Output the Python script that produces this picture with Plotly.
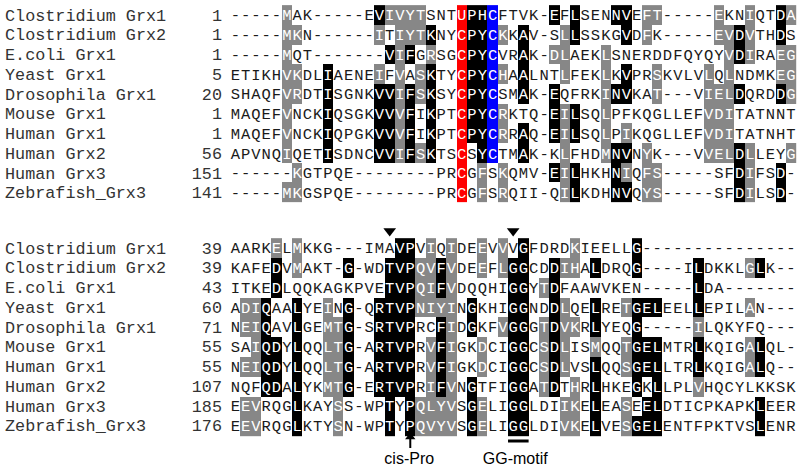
import plotly.graph_objects as go

# ---------------- data ----------------
names = ["Clostridium Grx1", "Clostridium Grx2", "E.coli Grx1", "Yeast Grx1",
         "Drosophila Grx1", "Mouse Grx1", "Human Grx1", "Human Grx2",
         "Human Grx3", "Zebrafish_Grx3"]
start1 = [1, 1, 1, 5, 20, 1, 1, 56, 151, 141]
start2 = [39, 39, 43, 60, 71, 55, 55, 107, 185, 176]

seq1 = [
    "-----MAK-----EVIVYTSNTUPHCFTVK-EFLSENNVEFT-----EKNIQTDA",
    "-----MKN------ITIYTKNYCPYCKKAV-SLLSSKGVDFK-----EVDVTHDS",
    "-----MQT-------VIFGRSGCPYCVRAK-DLAEKLSNERDDFQYQYVDIRAEG",
    "ETIKHVKDLIAENEIFVASKTYCPYCHAALNTLFEKLKVPRSKVLVLQLNDMKEG",
    "SHAQFVRDTISGNKVVIFSKSYCPYCSMAK-EQFRKINVKAT---VIELDQRDDG",
    "MAQEFVNCKIQSGKVVVFIKPTCPYCRKTQ-EILSQLPFKQGLLEFVDITATNNT",
    "MAQEFVNCKIQPGKVVVFIKPTCPYCRRAQ-EILSQLPIKQGLLEFVDITATNHT",
    "APVNQIQETISDNCVVIFSKTSCSYCTMAK-KLFHDMNVNYK---VVELDLLEYG",
    "------KGTPQE--------PRCGFSKQMV-EILHKHNIQFS-----SFDIFSD-",
    "-----MKGSPQE--------PRCGFSRQII-QILKDHNVQYS-----SFDILSD-",
]
seq2 = [
    "AARKELMKKG---IMAVPVIQIDEEVVVGFDRDKIEELLG---------------",
    "KAFEDVMAKT-G-WDTVPQVFVDEEFLGGCDDIHALDRQG----ILDKKLGLK--",
    "ITKEDLQQKAGKPVETVPQIFVDQQHIGGYTDFAAWVKEN-----LDA-------",
    "ADIQAALYEING-QRTVPNIYINGKHIGGNDDLQELRETGELEELLEPILAN---",
    "NEIQAVLGEMTG-SRTVPRCFIDGKFVGGGTDVKRLYEQG-----ILQKYFQ---",
    "SAIQDYLQQLTG-ARTVPRVFIGKDCIGGCSDLISMQQTGELMTRLKQIGALQL-",
    "NEIQDYLQQLTG-ARTVPRVFIGKDCIGGCSDLVSLQQSGELLTRLKQIGALQ--",
    "NQFQDALYKMTG-ERTVPRIFVNGTFIGGATDTHRLHKEGKLLPLVHQCYLKKSK",
    "EEVRQGLKAYSS-WPTYPQLYVSGELIGGLDIIKELEASEELDTICPKAPKLEER",
    "EEVRQGLKTYSN-WPTYPQVYVSGELIGGLDIVKELVESGELENTFPKTVSLENR",
]

# shading: column indices per row (gray = similar, black = identical)
gray1 = [
    [5, 15, 16, 17, 18, 40, 41, 47, 50, 54],
    [5, 6, 14, 16, 17, 18, 26, 32, 40, 47, 48, 50],
    [5, 16, 19, 31, 32, 36, 48, 50, 53, 54],
    [5, 6, 14, 16, 18, 26, 32, 36, 41, 46, 48, 53, 54],
    [5, 6, 16, 18, 36, 41, 46, 47, 48, 54],
    [5, 16, 26, 32, 36, 46, 47, 48],
    [5, 16, 26, 32, 36, 38, 46, 47, 48],
    [5, 16, 18, 32, 36, 40, 46, 47, 48, 50, 54],
    [6, 24, 26, 32, 38, 40, 41, 50],
    [5, 6, 24, 26, 32, 40, 41, 50],
]
black1 = [
    [14, 23, 24, 31, 33, 37, 38, 53],
    [19, 23, 24, 28, 33, 38, 49, 53],
    [15, 17, 23, 24, 28, 49],
    [9, 19, 23, 24, 28, 38],
    [9, 14, 15, 17, 19, 23, 24, 28, 31, 37, 38, 49, 53],
    [9, 14, 15, 17, 19, 23, 24, 31, 33],
    [9, 14, 15, 17, 19, 23, 24, 28, 31, 33],
    [9, 14, 15, 17, 19, 24, 28, 37, 38, 49],
    [31, 33, 37, 49, 53],
    [33, 37, 38, 49, 53],
]
red1 = {"col": 22, "rows": list(range(10))}
blue1 = {"col": 25, "rows": list(range(8))}

gray2 = [
    [4, 6, 19, 21, 24, 26, 33],
    [6, 18, 19, 21, 24, 26, 32, 33, 50],
    [18, 19, 21, 30],
    [1, 2, 9, 18, 19, 20, 21, 32, 38, 50],
    [1, 2, 9, 10, 21, 26, 30, 32, 33, 45],
    [2, 9, 10, 19, 21, 24, 30, 32, 35, 38, 50],
    [1, 2, 9, 10, 19, 21, 24, 30, 32, 38, 50],
    [9, 10, 19, 21, 30, 33, 45],
    [1, 2, 10, 18, 19, 20, 21, 24, 32, 33, 38],
    [1, 2, 10, 18, 19, 20, 21, 24, 32, 33, 38],
]
black2 = [
    [16, 17, 28, 39],
    [4, 11, 15, 16, 17, 20, 27, 28, 31, 35, 39, 45, 51],
    [4, 15, 16, 17, 20, 27, 28, 31, 45],
    [3, 6, 11, 14, 15, 16, 17, 23, 27, 28, 31, 35, 39, 40, 41, 45],
    [3, 6, 11, 14, 15, 16, 17, 20, 23, 27, 28, 31, 35, 39],
    [3, 4, 6, 11, 14, 15, 16, 17, 20, 27, 28, 31, 39, 40, 41, 45, 51],
    [3, 4, 6, 11, 14, 15, 16, 17, 20, 27, 28, 31, 35, 39, 40, 41, 45, 51],
    [3, 4, 6, 11, 14, 15, 16, 17, 20, 23, 27, 28, 31, 35, 39, 41],
    [6, 15, 17, 23, 27, 28, 35, 40, 41, 51],
    [6, 15, 17, 23, 27, 28, 35, 39, 40, 41, 51],
]

triangle_cols = [15, 27]          # markers above block 2
cis_pro_col = 17
gg_motif_cols = [27, 28]
labels = ["cis-Pro", "GG-motif"]

# ---------------- layout constants ----------------
W, H = 800, 469
CW = 10.29        # px per alignment column
X0 = 230.2        # px of left edge of column 0
ROW_H = 19.75     # px per row
Y0 = 15.0         # px centre of first row
BLOCK2 = 11.8     # row offset of second block
TEXT_DY = 0.07    # small downward nudge of glyphs inside their cells
NCOL = 55
MONO = "Liberation Mono, Courier New, monospace"
SANS = "Liberation Sans, Arial, sans-serif"
FS_SEQ = 15.5
FS_NAME = 16.8

GRAY, BLACK, RED, BLUE = "#878787", "#000000", "#ff0000", "#0000ff"


def px_to_x(px):
    return (px - X0) / CW - 0.5


def px_to_y(py):
    return (py - Y0) / ROW_H


fig = go.Figure()


def build_block(seqs, grays, blacks, red, blue, yoff, starts):
    z = [[None] * NCOL for _ in seqs]
    for r in range(len(seqs)):
        for c in grays[r]:
            z[r][c] = 1
        for c in blacks[r]:
            z[r][c] = 2
    if red:
        for r in red["rows"]:
            z[r][red["col"]] = 3
    if blue:
        for r in blue["rows"]:
            z[r][blue["col"]] = 4
    fig.add_trace(go.Heatmap(
        z=z, x=list(range(NCOL)), y=[yoff + r for r in range(len(seqs))],
        zmin=0.5, zmax=4.5, showscale=False, hoverinfo="skip", zsmooth=False,
        colorscale=[[0, GRAY], [0.25, GRAY], [0.25, BLACK], [0.5, BLACK],
                    [0.5, RED], [0.75, RED], [0.75, BLUE], [1, BLUE]]))
    xs, ys, ts, cs = [], [], [], []
    for r, s in enumerate(seqs):
        for c, ch in enumerate(s):
            xs.append(c)
            ys.append(yoff + r + TEXT_DY)
            ts.append(ch)
            cs.append("white" if z[r][c] else "#1a1a1a")
    fig.add_trace(go.Scatter(x=xs, y=ys, text=ts, mode="text",
                             textfont=dict(family=MONO, size=FS_SEQ, color=cs),
                             hoverinfo="skip"))
    # names
    fig.add_trace(go.Scatter(x=[px_to_x(5)] * len(names),
                             y=[yoff + r + TEXT_DY for r in range(len(names))],
                             text=names, mode="text", textposition="middle right",
                             textfont=dict(family=MONO, size=FS_NAME, color="#333"),
                             hoverinfo="skip"))
    # start numbers
    fig.add_trace(go.Scatter(x=[-1.3] * len(starts),
                             y=[yoff + r + TEXT_DY for r in range(len(starts))],
                             text=[str(v) for v in starts], mode="text",
                             textposition="middle left",
                             textfont=dict(family=MONO, size=FS_NAME, color="#333"),
                             hoverinfo="skip"))


build_block(seq1, gray1, black1, red1, blue1, 0, start1)
build_block(seq2, gray2, black2, None, None, BLOCK2, start2)

# triangles above block 2
fig.add_trace(go.Scatter(x=triangle_cols, y=[px_to_y(231)] * len(triangle_cols),
                         mode="markers", marker=dict(symbol="triangle-down", size=11, color="black"),
                         hoverinfo="skip"))
# cis-Pro arrow
fig.add_trace(go.Scatter(x=[cis_pro_col, cis_pro_col], y=[px_to_y(448), px_to_y(439)],
                         mode="lines", line=dict(color="black", width=2), hoverinfo="skip"))
fig.add_trace(go.Scatter(x=[cis_pro_col], y=[px_to_y(437)], mode="markers",
                         marker=dict(symbol="triangle-up", size=9, color="black"),
                         hoverinfo="skip"))
# GG-motif bar
fig.add_trace(go.Scatter(x=[gg_motif_cols[0] - 0.5, gg_motif_cols[-1] + 0.5],
                         y=[px_to_y(441)] * 2, mode="lines",
                         line=dict(color="black", width=3), hoverinfo="skip"))
# labels
fig.add_trace(go.Scatter(x=[cis_pro_col - 0.1, 27.2], y=[px_to_y(460)] * 2,
                         text=labels, mode="text",
                         textfont=dict(family=SANS, size=16, color="black"),
                         hoverinfo="skip"))

fig.update_layout(
    width=W, height=H, margin=dict(l=0, r=0, t=0, b=0),
    paper_bgcolor="white", plot_bgcolor="white", showlegend=False,
    xaxis=dict(range=[px_to_x(0), px_to_x(W)], visible=False, fixedrange=True),
    yaxis=dict(range=[px_to_y(H), px_to_y(0)], visible=False, fixedrange=True),
)
fig.write_html("out.html", config={"displayModeBar": False},
               post_script="document.body.style.margin='0';"
                           "document.documentElement.style.overflow='hidden';")
